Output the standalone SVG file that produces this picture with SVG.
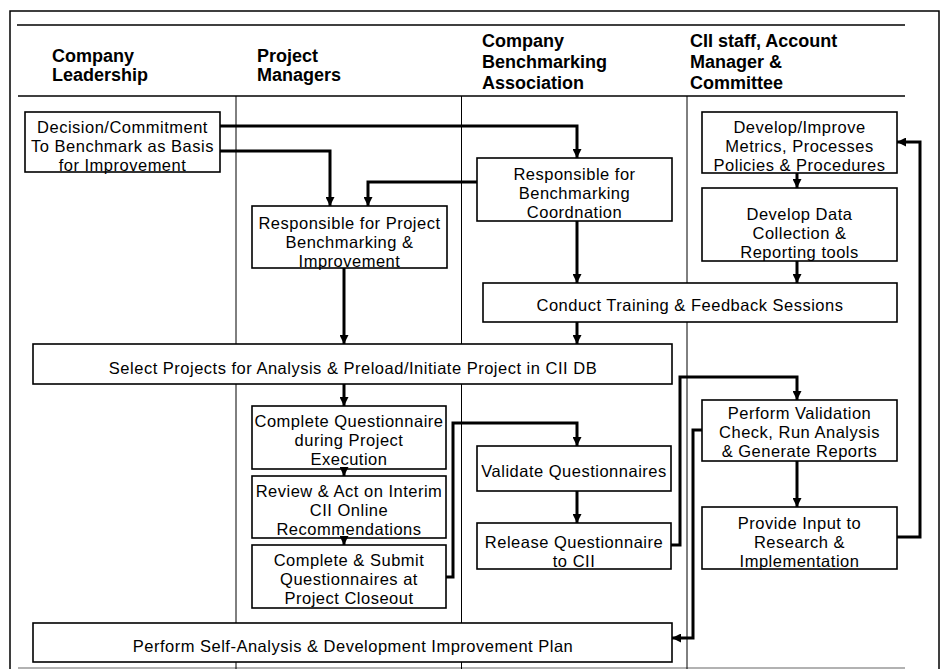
<svg xmlns="http://www.w3.org/2000/svg" width="947" height="669" viewBox="0 0 947 669">
<defs>
<style>
.bg{fill:#fff}
.frame{fill:none;stroke:#000;stroke-width:1.5}
.rule{stroke:#000;stroke-width:1.5}
.col{stroke:#000;stroke-width:1}
.box{fill:#fff;stroke:#000;stroke-width:1.6}
.hd{font-family:"Liberation Sans",Arial,Helvetica,sans-serif;font-weight:bold;font-size:18px;fill:#000}
.t{font-family:"Liberation Sans",Arial,Helvetica,sans-serif;font-size:16.5px;letter-spacing:0.5px;fill:#000;text-anchor:middle}
.c{fill:none;stroke:#000;stroke-width:3;marker-end:url(#ah)}
</style>
<marker id="ah" viewBox="0 0 10 10" refX="10" refY="5" markerWidth="9" markerHeight="9" markerUnits="userSpaceOnUse" orient="auto">
<path d="M0,0 L10,5 L0,10 z" fill="#000"/>
</marker>
</defs>
<rect class="bg" x="0" y="0" width="947" height="669"/>
<g id="frame">
<rect class="frame" x="10" y="11" width="929" height="700"/>
<line class="rule" x1="17" y1="25" x2="905" y2="25"/>
<line class="rule" x1="18" y1="96" x2="905" y2="96"/>
<line x1="18" y1="668" x2="905" y2="668" stroke="#999" stroke-width="1.5"/>
<line class="col" x1="236" y1="96" x2="236" y2="669"/>
<line class="col" x1="461.5" y1="96" x2="461.5" y2="669"/>
<line class="col" x1="687" y1="96" x2="687" y2="669"/>
</g>
<g id="headers">
<text class="hd" x="52" y="62">Company</text>
<text class="hd" x="52" y="81">Leadership</text>
<text class="hd" x="257" y="62">Project</text>
<text class="hd" x="257" y="81">Managers</text>
<text class="hd" x="482" y="47">Company</text>
<text class="hd" x="482" y="68">Benchmarking</text>
<text class="hd" x="482" y="89">Association</text>
<text class="hd" x="690" y="47">CII staff, Account</text>
<text class="hd" x="690" y="68">Manager &amp;</text>
<text class="hd" x="690" y="89">Committee</text>
</g>
<g id="n-decision">
<rect class="box" x="25" y="112" width="195" height="60"/>
<text class="t" x="122.5" y="133">Decision/Commitment</text>
<text class="t" x="122.5" y="152">To Benchmark as Basis</text>
<text class="t" x="122.5" y="171">for Improvement</text>
</g>
<g id="n-resp-project">
<rect class="box" x="252" y="206" width="195" height="62"/>
<text class="t" x="349.5" y="229">Responsible for Project</text>
<text class="t" x="349.5" y="248">Benchmarking &amp;</text>
<text class="t" x="349.5" y="267">Improvement</text>
</g>
<g id="n-coord">
<rect class="box" x="477" y="158" width="195" height="63"/>
<text class="t" x="574.5" y="180">Responsible for</text>
<text class="t" x="574.5" y="199">Benchmarking</text>
<text class="t" x="574.5" y="218">Coordnation</text>
</g>
<g id="n-develop-improve">
<rect class="box" x="702" y="112" width="195" height="61"/>
<text class="t" x="799.5" y="133">Develop/Improve</text>
<text class="t" x="799.5" y="152">Metrics, Processes</text>
<text class="t" x="799.5" y="171">Policies &amp; Procedures</text>
</g>
<g id="n-develop-data">
<rect class="box" x="702" y="188" width="195" height="73"/>
<text class="t" x="799.5" y="220">Develop Data</text>
<text class="t" x="799.5" y="239">Collection &amp;</text>
<text class="t" x="799.5" y="258">Reporting tools</text>
</g>
<g id="n-training">
<rect class="box" x="483" y="283" width="414" height="39"/>
<text class="t" x="690" y="311">Conduct Training &amp; Feedback Sessions</text>
</g>
<g id="n-select">
<rect class="box" x="33" y="344" width="639" height="40"/>
<text class="t" x="353" y="374">Select Projects for Analysis &amp; Preload/Initiate Project in CII DB</text>
</g>
<g id="n-complete-q">
<rect class="box" x="252" y="406" width="194" height="63"/>
<text class="t" x="349" y="427">Complete Questionnaire</text>
<text class="t" x="349" y="446">during Project</text>
<text class="t" x="349" y="465">Execution</text>
</g>
<g id="n-review">
<rect class="box" x="252" y="476" width="194" height="62"/>
<text class="t" x="349" y="497">Review &amp; Act on Interim</text>
<text class="t" x="349" y="516">CII Online</text>
<text class="t" x="349" y="535">Recommendations</text>
</g>
<g id="n-submit">
<rect class="box" x="252" y="545" width="194" height="63"/>
<text class="t" x="349" y="566">Complete &amp; Submit</text>
<text class="t" x="349" y="585">Questionnaires at</text>
<text class="t" x="349" y="604">Project Closeout</text>
</g>
<g id="n-validate">
<rect class="box" x="477" y="446" width="194" height="45"/>
<text class="t" x="574" y="477">Validate Questionnaires</text>
</g>
<g id="n-release">
<rect class="box" x="477" y="523" width="194" height="46"/>
<text class="t" x="574" y="548">Release Questionnaire</text>
<text class="t" x="574" y="567">to CII</text>
</g>
<g id="n-perform-validation">
<rect class="box" x="702" y="400" width="195" height="61"/>
<text class="t" x="799.5" y="419">Perform Validation</text>
<text class="t" x="799.5" y="438">Check, Run Analysis</text>
<text class="t" x="799.5" y="457">&amp; Generate Reports</text>
</g>
<g id="n-provide-input">
<rect class="box" x="702" y="507" width="195" height="62"/>
<text class="t" x="799.5" y="529">Provide Input to</text>
<text class="t" x="799.5" y="548">Research &amp;</text>
<text class="t" x="799.5" y="567">Implementation</text>
</g>
<g id="n-self-analysis">
<rect class="box" x="33" y="623" width="639" height="39"/>
<text class="t" x="353" y="652">Perform Self-Analysis &amp; Development Improvement Plan</text>
</g>
<g id="connectors">
<path class="c" d="M220,126 H577 V158"/>
<path class="c" d="M220,151 H330 V206"/>
<path class="c" d="M477,182 H368 V206"/>
<path class="c" d="M577,221 V283"/>
<path class="c" d="M797,173 V188"/>
<path class="c" d="M797,261 V283"/>
<path class="c" d="M577,322 V344"/>
<path class="c" d="M344,268 V344"/>
<path class="c" d="M344,384 V406"/>
<path class="c" d="M344,469 V476"/>
<path class="c" d="M344,538 V545"/>
<path class="c" d="M446,577 H453 V423 H577 V446"/>
<path class="c" d="M577,491 V523"/>
<path class="c" d="M671,545 H680 V377 H797 V400"/>
<path class="c" d="M797,461 V507"/>
<path class="c" d="M897,537 H920 V142 H897"/>
<path class="c" d="M702,430 H693 V638 H672"/>
</g>
</svg>
